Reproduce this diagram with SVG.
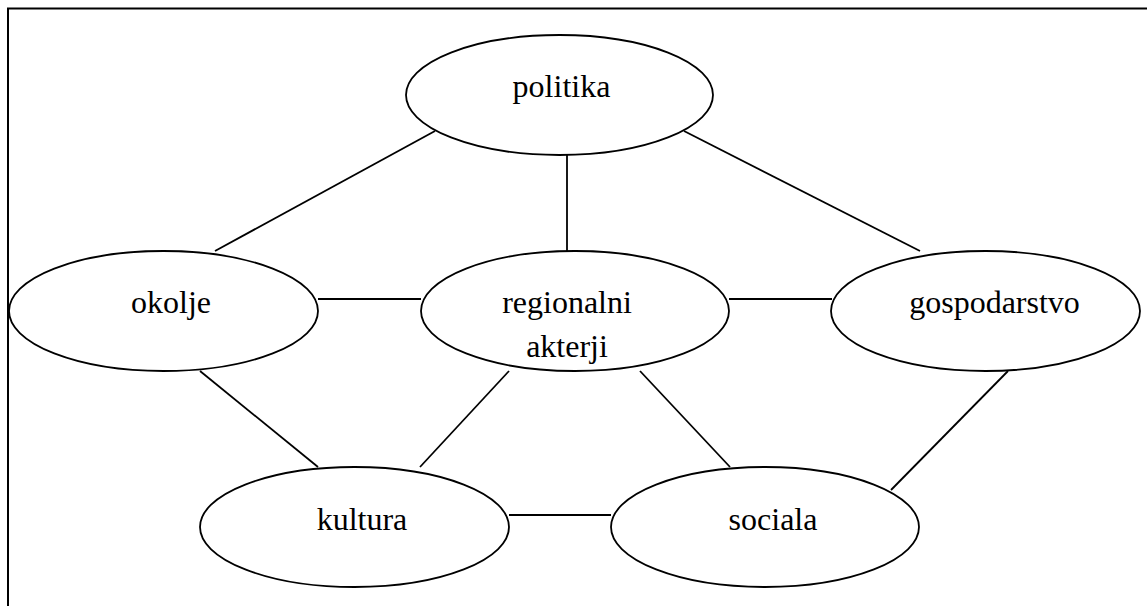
<svg xmlns="http://www.w3.org/2000/svg" width="1147" height="606" viewBox="0 0 1147 606">
<style>
.node ellipse{fill:#fff;stroke:#000;stroke-width:1.8}
.node text{font-family:"Liberation Serif","Times New Roman",serif;font-size:32px;fill:#000;text-anchor:middle}
#connectors line{stroke:#000;stroke-width:1.8}
.frame{fill:none;stroke:#000;stroke-width:2}
</style>
<rect width="1147" height="606" fill="#fff"/>
<path class="frame" d="M8,606 V8.5 H1147"/>
<g id="connectors">
<line x1="435" y1="131" x2="215" y2="251"/>
<line x1="567" y1="155" x2="567" y2="251"/>
<line x1="684" y1="131" x2="920" y2="251"/>
<line x1="318" y1="299" x2="421" y2="299"/>
<line x1="729" y1="299" x2="832" y2="299"/>
<line x1="200" y1="371" x2="318" y2="467"/>
<line x1="509" y1="371" x2="420" y2="467"/>
<line x1="640" y1="371" x2="730" y2="467"/>
<line x1="1008" y1="371" x2="891" y2="490"/>
<line x1="509" y1="515" x2="611" y2="515"/>
</g>
<g id="politika" class="node">
<ellipse cx="559.5" cy="95" rx="153.5" ry="60"/>
<text x="561.5" y="97">politika</text>
</g>
<g id="okolje" class="node">
<ellipse cx="163.5" cy="311" rx="154.5" ry="60"/>
<text x="171" y="313">okolje</text>
</g>
<g id="regionalni-akterji" class="node">
<ellipse cx="575" cy="311" rx="154" ry="60"/>
<text x="567" y="313">regionalni</text>
<text x="567" y="357">akterji</text>
</g>
<g id="gospodarstvo" class="node">
<ellipse cx="985.5" cy="311" rx="154.5" ry="60"/>
<text x="994.5" y="313">gospodarstvo</text>
</g>
<g id="kultura" class="node">
<ellipse cx="354.5" cy="527" rx="154.5" ry="60"/>
<text x="362" y="530">kultura</text>
</g>
<g id="sociala" class="node">
<ellipse cx="765" cy="527" rx="154" ry="60"/>
<text x="773" y="530">sociala</text>
</g>
</svg>
